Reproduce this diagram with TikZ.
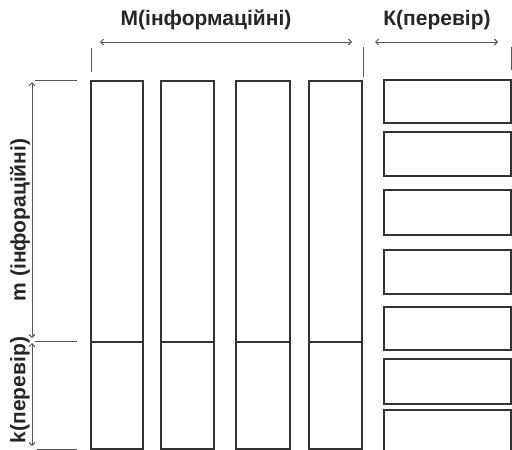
\documentclass[tikz,border=0pt]{standalone}
\usepackage{fontspec}
\setmainfont{Liberation Sans}
\usetikzlibrary{arrows.meta}

\begin{document}
\begin{tikzpicture}[x=1pt,y=-1pt,
  cell/.style={rectangle,draw=black!80,line width=1.5pt,inner sep=0pt,
               anchor=north west},
  tick/.style={draw=black!65,line width=1pt},
  dim/.style ={{Straight Barb[length=3pt,width=6pt]}-{Straight Barb[length=3pt,width=6pt]},
               draw=black!65,line width=1pt},
  lbl/.style ={font=\bfseries\fontsize{21}{21}\selectfont,inner sep=0pt,
               text=black!85}
]
\useasboundingbox (0,0) rectangle (512,450);

% information columns with check part below
\foreach \n/\x/\w in {1/90/52,2/160/53,3/235/54,4/308/53}{
  \node[cell,minimum width=\w pt,minimum height=261pt] (info\n) at (\x,80)  {};
  \node[cell,minimum width=\w pt,minimum height=107pt] (chk\n)  at (\x,341) {};
}

% check blocks on the right
\foreach \n/\y/\h in {1/79/43,2/131/44,3/189/45,4/249/44,5/306/43,6/358/45,7/409/45}{
  \node[cell,minimum width=127pt,minimum height=\h pt] (par\n) at (383,\y) {};
}

% dimension ends
\coordinate (Ma) at (100,42);  \coordinate (Mb) at (352,42);
\coordinate (Ka) at (375,42);  \coordinate (Kb) at (498,42);
\coordinate (ma) at (32,82);   \coordinate (mb) at (32,338);
\coordinate (ka) at (32,343);  \coordinate (kb) at (32,446);

% extension lines
\coordinate (t1a) at (91,48);  \coordinate (t1b) at (91,72);
\coordinate (t2a) at (363,47); \coordinate (t2b) at (363,77);
\coordinate (t3a) at (511,47); \coordinate (t3b) at (511,70);
\coordinate (h1a) at (35,80);  \coordinate (h1b) at (77,80);
\coordinate (h2a) at (35,341); \coordinate (h2b) at (77,341);
\coordinate (h3a) at (37,449); \coordinate (h3b) at (77,449);
\foreach \t in {t1,t2,t3,h1,h2,h3}{
  \draw[tick] (\t a) -- (\t b);
}

\draw[dim] (Ma) -- (Mb);
\draw[dim] (Ka) -- (Kb);
\draw[dim] (ma) -- (mb);
\draw[dim] (ka) -- (kb);

% labels
\node[lbl] (Mlbl) at (206,20) {M(інформаційні)};
\node[lbl] (Klbl) at (437,20) {К(перевір)};
\node[lbl,rotate=90] (mlbl) at (20,220) {m (інфорацiйні)};
\node[lbl,rotate=90] (klbl) at (20,390) {k(перевір)};

\end{tikzpicture}
\end{document}
